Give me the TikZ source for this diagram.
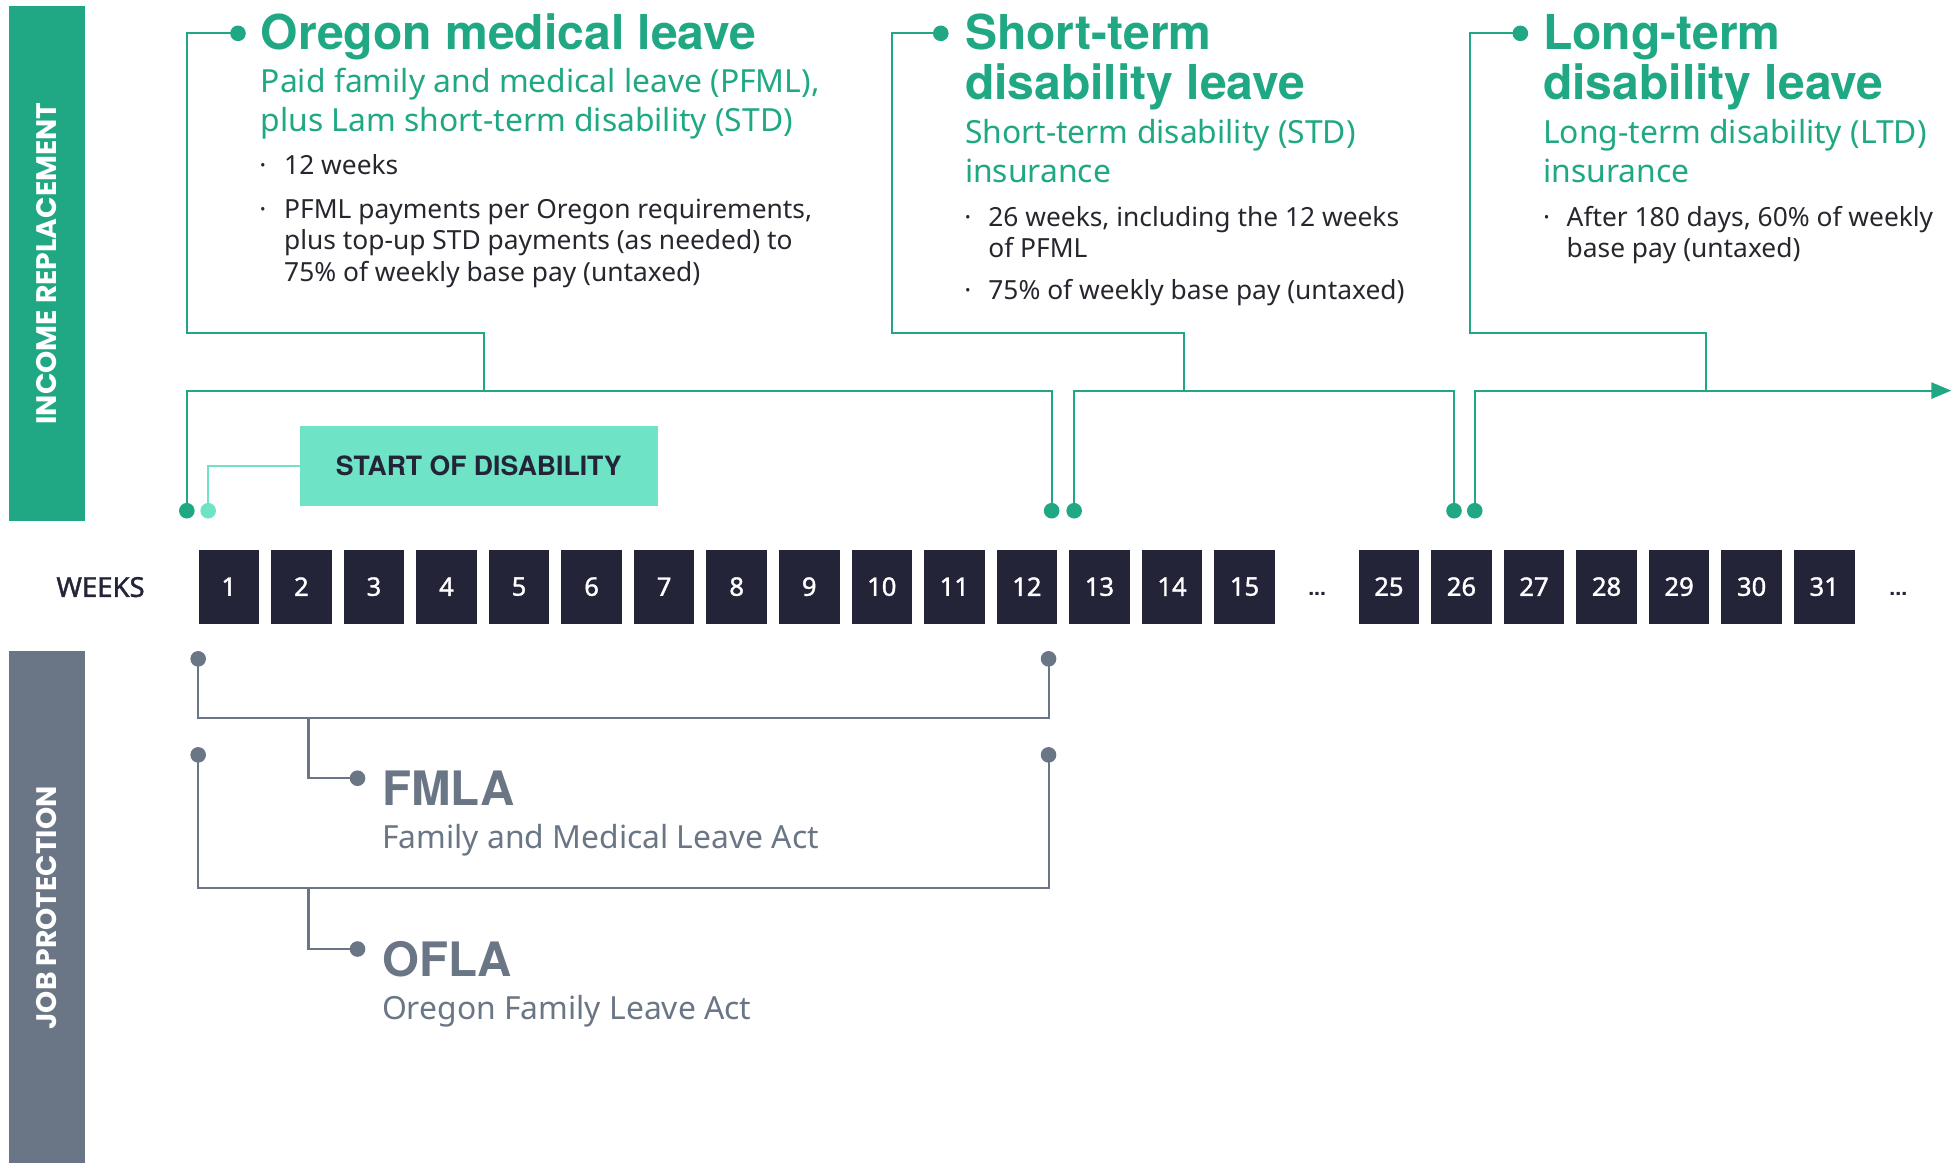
\documentclass[tikz,border=0pt]{standalone}
\usepackage{fontspec}
\setmainfont{Noto Sans}
\newfontfamily\hfont{TeX Gyre Heros}
\newfontfamily\vlabfont{Poppins}[BoldFont={* Bold}]
\newfontfamily\medfont{Noto Sans}[FakeBold=1.4]
\usetikzlibrary{arrows.meta}
\definecolor{gr}{HTML}{1FA883}
\definecolor{lt}{HTML}{6EE3C6}
\definecolor{nv}{HTML}{232437}
\definecolor{gy}{HTML}{6A7685}
\definecolor{tx}{HTML}{26262E}
\begin{document}
\begin{tikzpicture}[x=1pt,y=-1pt,
  ttl/.style={anchor=base west, inner sep=0pt, text=gr, font=\hfont\bfseries\fontsize{38.5}{42}\selectfont},
  sub/.style={anchor=base west, inner sep=0pt, text=gr, font=\fontsize{25.5}{30}\selectfont},
  body/.style={anchor=base west, inner sep=0pt, text=tx, font=\fontsize{21.1}{25}\selectfont},
  bul/.style={anchor=base, inner sep=0pt, text=tx, font=\fontsize{21}{25}\selectfont},
  gttl/.style={anchor=base west, inner sep=0pt, text=gy, font=\hfont\bfseries\fontsize{38}{42}\selectfont},
  gsub/.style={anchor=base west, inner sep=0pt, text=gy, font=\fontsize{25.5}{30}\selectfont},
  gline/.style={draw=gr, line width=1.7pt},
  lline/.style={draw=lt, line width=1.7pt},
  yline/.style={draw=gy, line width=1.7pt},
  gdot/.style={circle, fill=gr, inner sep=0pt, minimum size=12.5pt},
  ldot/.style={circle, fill=lt, inner sep=0pt, minimum size=12.5pt},
  ydot/.style={circle, fill=gy, inner sep=0pt, minimum size=12.5pt},
  wk/.style={fill=nv, text=white, inner sep=0pt, minimum width=48.5pt, minimum height=59.5pt, font=\medfont\fontsize{20.5}{24}\selectfont},
  vlab/.style={rotate=90, text=white, inner sep=0pt, font=\vlabfont\bfseries\fontsize{22.6}{26}\selectfont},
  ell/.style={anchor=base, inner sep=0pt, text=nv, font=\hfont\bfseries\fontsize{17}{18}\selectfont}
]
\useasboundingbox (0,0) rectangle (1568,931);

% side bars
\node[fill=gr, anchor=north west, inner sep=0pt, minimum width=61pt, minimum height=412pt] (incbar) at (7,5) {};
\node[vlab] (inclab) at (37.5,211) {INCOME REPLACEMENT};
\node[fill=gy, anchor=north west, inner sep=0pt, minimum width=61pt, minimum height=410pt] (jobbar) at (7,521) {};
\node[vlab] (joblab) at (37.5,727) {JOB PROTECTION};

% weeks
\node[anchor=base west, inner sep=0pt, text=nv, font=\medfont\fontsize{22}{25}\selectfont] (weeks) at (45,478) {WEEKS};
\foreach \i in {1,...,15} { \node[wk] (w\i) at ({159+(\i-1)*58.1+24.25}, 469.8) {\i}; }
\foreach \i [count=\k from 0] in {25,...,31} { \node[wk] (w\i) at ({1088+\k*58.1+24.25}, 469.8) {\i}; }
\node[ell] (ell1) at (1054.8,477) {...};
\node[ell] (ell2) at (1520.2,477) {...};

% Oregon medical leave
\node[ttl] (t1) at (208.7,40) {Oregon medical leave};
\node[sub] (s1a) at (208.7,74.2) {Paid family and medical leave (PFML),};
\node[sub] (s1b) at (208.7,105.4) {plus Lam short-term disability (STD)};
\node[bul] (b1a) at (210.5,140.1) {·};
\node[body] (p1a) at (227.4,140.1) {12 weeks};
\node[bul] (b1b) at (210.5,174.8) {·};
\node[body] (p1b) at (227.4,174.8) {PFML payments per Oregon requirements,};
\node[body] (p1c) at (227.4,200.2) {plus top-up STD payments (as needed) to};
\node[body] (p1d) at (227.4,225.5) {75\% of weekly base pay (untaxed)};

% Short-term disability leave
\node[ttl] (t2a) at (772.6,40) {Short-term};
\node[ttl] (t2b) at (772.6,80) {disability leave};
\node[sub] (s2a) at (772.6,114.8) {Short-term disability (STD)};
\node[sub] (s2b) at (772.6,146.3) {insurance};
\node[bul] (b2a) at (775,181.5) {·};
\node[body] (p2a) at (791.3,181.5) {26 weeks, including the 12 weeks};
\node[body] (p2b) at (791.3,206) {of PFML};
\node[bul] (b2b) at (775,240.2) {·};
\node[body] (p2c) at (791.3,240.2) {75\% of weekly base pay (untaxed)};

% Long-term disability leave
\node[ttl] (t3a) at (1235.6,40) {Long-term};
\node[ttl] (t3b) at (1235.6,80) {disability leave};
\node[sub] (s3a) at (1235.6,114.8) {Long-term disability (LTD)};
\node[sub] (s3b) at (1235.6,146.3) {insurance};
\node[bul] (b3a) at (1238.5,181.5) {·};
\node[body] (p3a) at (1254.4,181.5) {After 180 days, 60\% of weekly};
\node[body] (p3b) at (1254.4,206) {base pay (untaxed)};

% start of disability
\node[fill=lt, text=nv, inner sep=0pt, minimum width=286.5pt, minimum height=63.8pt, font=\hfont\bfseries\fontsize{21.3}{25}\selectfont] (start) at (383.4,373) {START OF DISABILITY};

% coordinates
\coordinate (oBend) at (149.5,266.9);
\coordinate (oJoin) at (387.8,312.8);
\coordinate (sBend) at (714,266.9);
\coordinate (sJoin) at (948,312.8);
\coordinate (lBend) at (1177.5,266.9);
\coordinate (lJoin) at (1366.4,312.8);
\coordinate (arrEnd) at (1562.6,312.8);
\coordinate (fBend) at (247,574.9);
\coordinate (oflBend) at (247,711.2);
\coordinate (fBar) at (158.7,574.9);
\coordinate (oflBar) at (158.7,711.2);

% dots positions
\coordinate (cT1) at (190.6,26.7);
\coordinate (cT2) at (753.4,26.7);
\coordinate (cT3) at (1217.5,26.7);
\coordinate (cA1) at (149.6,409);
\coordinate (cS) at (166.7,409);
\coordinate (cA12) at (842.2,409);
\coordinate (cB13) at (860.2,409);
\coordinate (cB26) at (1164.4,409);
\coordinate (cC26) at (1181,409);
\coordinate (cF1) at (158.7,527.6);
\coordinate (cF12) at (839.7,527.6);
\coordinate (cO1) at (158.7,604.5);
\coordinate (cO12) at (839.7,604.5);
\coordinate (cFd) at (286.3,623.2);
\coordinate (cOd) at (286.3,760);

% green connectors
\draw[gline] (cT1) -| (oBend) -| (oJoin);
\draw[gline] (cT2) -| (sBend) -| (sJoin);
\draw[gline] (cT3) -| (lBend) -| (lJoin);
\draw[gline] (cA1) -- (cA1 |- oJoin) -- (cA12 |- oJoin) -- (cA12);
\draw[gline] (cB13) -- (cB13 |- sJoin) -- (cB26 |- sJoin) -- (cB26);
\draw[gline, -{Triangle[length=16pt,width=13pt]}] (cC26) -- (cC26 |- lJoin) -- (arrEnd);
\draw[lline] (cS) |- (start.west);

% gray connectors
\draw[yline] (cF1) -- (fBar) -- (cF12 |- fBar) -- (cF12);
\draw[yline] (fBend) |- (cFd);
\draw[yline] (cO1) -- (oflBar) -- (cO12 |- oflBar) -- (cO12);
\draw[yline] (oflBend) |- (cOd);

% dots
\node[gdot] (dT1) at (cT1) {};
\node[gdot] (dT2) at (cT2) {};
\node[gdot] (dT3) at (cT3) {};
\node[gdot] (dA1) at (cA1) {};
\node[ldot] (dS) at (cS) {};
\node[gdot] (dA12) at (cA12) {};
\node[gdot] (dB13) at (cB13) {};
\node[gdot] (dB26) at (cB26) {};
\node[gdot] (dC26) at (cC26) {};
\node[ydot] (dF1) at (cF1) {};
\node[ydot] (dF12) at (cF12) {};
\node[ydot] (dO1) at (cO1) {};
\node[ydot] (dO12) at (cO12) {};
\node[ydot] (dFd) at (cFd) {};
\node[ydot] (dOd) at (cOd) {};

% job protection texts
\node[gttl] (fmla) at (305.8,645) {FMLA};
\node[gsub] (fmlas) at (305.8,679.2) {Family and Medical Leave Act};
\node[gttl] (ofla) at (305.8,782) {OFLA};
\node[gsub] (oflas) at (305.8,816.1) {Oregon Family Leave Act};
\end{tikzpicture}
\end{document}
